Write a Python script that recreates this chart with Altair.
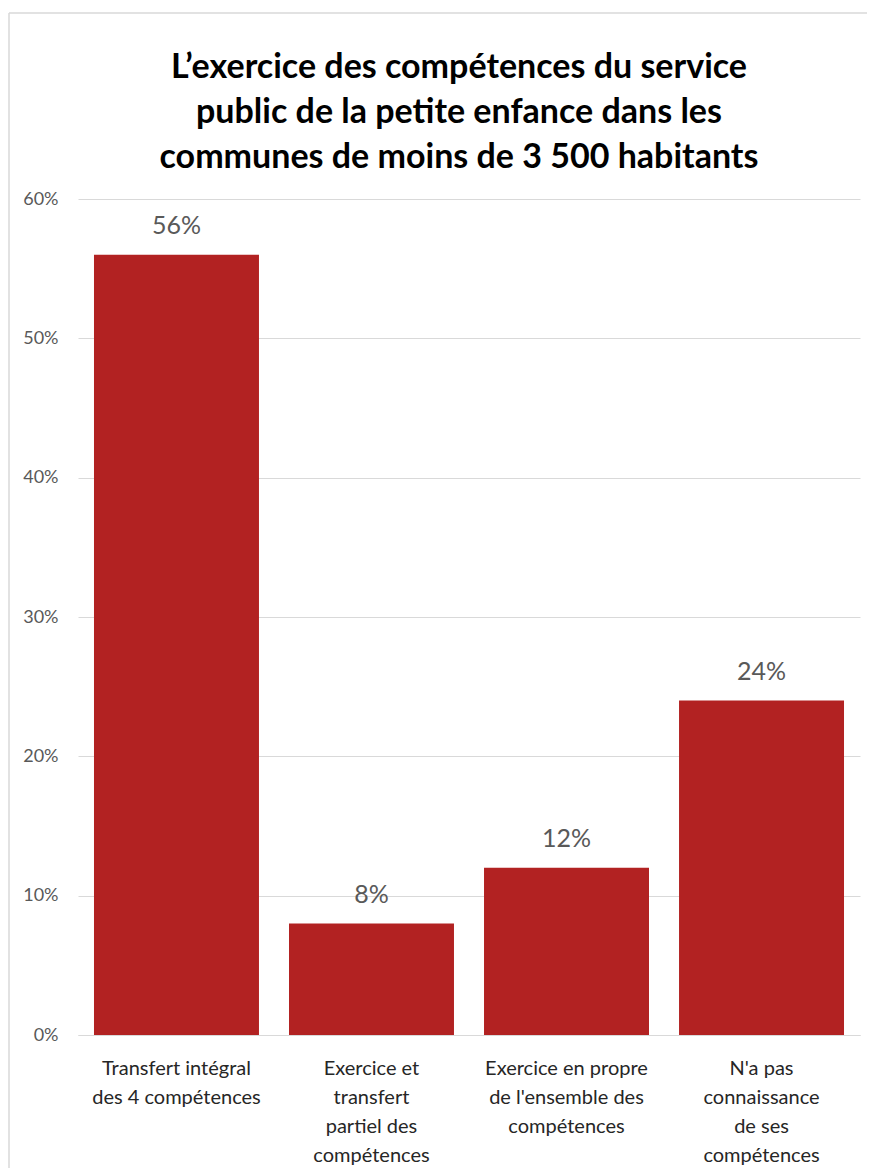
import altair as alt
import pandas as pd

categories = [
    "Transfert intégral\ndes 4 compétences",
    "Exercice et\ntransfert\npartiel des\ncompétences",
    "Exercice en propre\nde l'ensemble des\ncompétences",
    "N'a pas\nconnaissance\nde ses\ncompétences",
]
values = [0.56, 0.08, 0.12, 0.24]

title_lines = [
    "L\u2019exercice des compétences du service",
    "public de la petite enfance dans les",
    "communes de moins de 3 500 habitants",
]

df = pd.DataFrame({"cat": categories, "val": values})
FONT = "Lato"

x_enc = alt.X(
    "cat:N",
    sort=categories,
    title=None,
    scale=alt.Scale(paddingInner=0.154, paddingOuter=0.082),
    axis=alt.Axis(
        labelExpr="split(datum.label, '\\n')",
        labelAngle=0,
        labelFont=FONT,
        labelFontSize=20,
        labelColor="#262626",
        labelLineHeight=29,
        labelPadding=23,
        labelBaseline="top",
        ticks=False,
        domainColor="#d9d9d9",
        domainWidth=1,
    ),
)
y_enc = alt.Y(
    "val:Q",
    title=None,
    scale=alt.Scale(domain=[0, 0.6], nice=False),
    axis=alt.Axis(
        values=[0, 0.1, 0.2, 0.3, 0.4, 0.5, 0.6],
        format=".0%",
        labelFont=FONT,
        labelFontSize=18,
        labelColor="#595959",
        labelPadding=20,
        ticks=False,
        domain=False,
        gridColor="#d9d9d9",
        gridWidth=1,
    ),
)

bars = alt.Chart(df).mark_bar(color="#B22222").encode(x=x_enc, y=y_enc)
labels = alt.Chart(df).mark_text(
    font=FONT, fontSize=25, color="#595959", baseline="bottom", dy=-16
).encode(x=x_enc, y=y_enc, text=alt.Text("val:Q", format=".0%"))

one = pd.DataFrame({"f": [1]})
frame_left = alt.Chart(one).mark_rule(color="#d9d9d9", strokeWidth=1.5).encode(
    x=alt.value(-69), y=alt.value(-186), y2=alt.value(1000)
)
frame_top = alt.Chart(one).mark_rule(color="#d9d9d9", strokeWidth=1.5).encode(
    x=alt.value(-69), x2=alt.value(900), y=alt.value(-186)
)
title = alt.Chart(one).mark_text(
    font=FONT, fontSize=34, fontWeight="bold", color="#000000",
    lineHeight=45, baseline="top", align="center",
).encode(x=alt.value(381), y=alt.value(-148), text=alt.value(title_lines))

chart = alt.layer(frame_left, frame_top, bars, labels, title).properties(
    width=782,
    height=836,
    autosize=alt.AutoSizeParams(type="none"),
    padding={"left": 70, "top": 191, "right": 7, "bottom": 133},
).configure_view(stroke=None)

chart.save("out.html", embed_options={"renderer": "svg", "actions": False})
